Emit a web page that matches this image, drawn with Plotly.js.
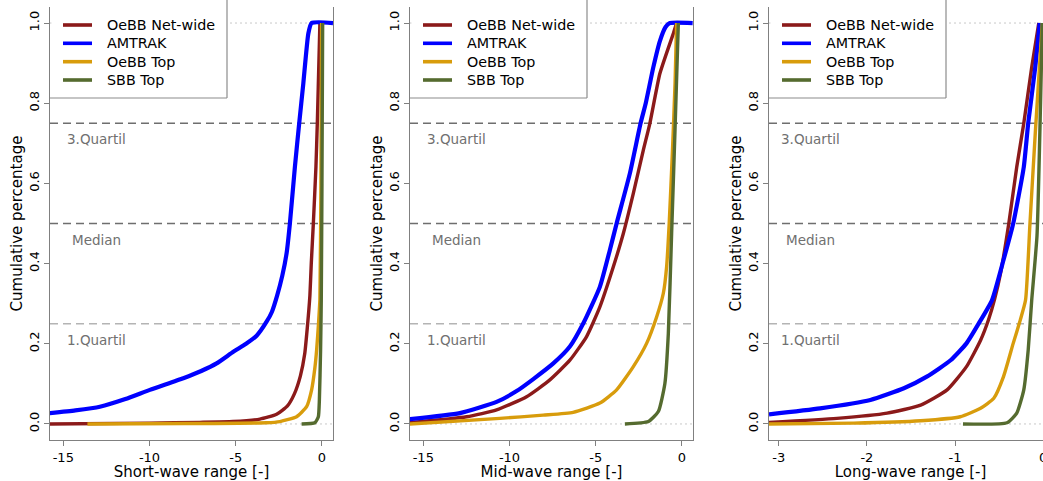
<!DOCTYPE html>
<html><head><meta charset="utf-8">
<script src="https://cdn.plot.ly/plotly-3.0.1.min.js"></script>
<style>html,body{margin:0;padding:0;overflow:hidden;background:#fff}#chart{width:1060px;height:481px}</style>
</head><body><div id="chart"></div><script>
// ---- data ----
const seriesNames = ['OeBB Net-wide', 'AMTRAK', 'OeBB Top', 'SBB Top'];
const seriesColors = ['#8B1A1A', '#0000FF', '#D89C0C', '#556B2F'];
const seriesWidths = [3.4, 4.2, 3.4, 3.4];

const panelTitles = ['Short-wave range [-]', 'Mid-wave range [-]', 'Long-wave range [-]'];
const panelRanges = [[-15.77, 0.64], [-15.77, 0.64], [-3.11, 0.10]];
const panelTickVals = [[-15, -10, -5, 0], [-15, -10, -5, 0], [-3, -2, -1, 0]];
const panelTickText = [['-15', '-10', '-5', '0'], ['-15', '-10', '-5', '0'], ['-3', '-2', '-1', '0']];
const yTickVals = [0, 0.2, 0.4, 0.6, 0.8, 1.0];
const yTickText = ['0.0', '0.2', '0.4', '0.6', '0.8', '1.0'];
const quartileLabels = ['3.Quartil', 'Median', '1.Quartil'];
const quartileValues = [0.75, 0.5, 0.25];
const labelYs = [0.71, 0.458, 0.209];
const labelXs = [-13.1, -13.1, -2.64];

// Short-wave
const swNetX = [-15.8, -10, -7.08, -5.16, -3.6, -2.63, -2.0, -1.6, -1.25, -1.0, -0.85, -0.70, -0.62, -0.50, -0.35, -0.27, -0.16, -0.12];
const swNetY = [0.0, 0.002, 0.004, 0.006, 0.012, 0.024, 0.045, 0.075, 0.12, 0.175, 0.24, 0.32, 0.40, 0.5, 0.641, 0.75, 0.932, 1.0];
const swAmtX = [-15.8, -14.3, -12.88, -11.4, -9.98, -8.04, -7.0, -6.11, -5.14, -4.4, -3.79, -3.21, -2.9, -2.6, -2.3, -2.05, -1.86, -1.57, -1.32, -1.08, -0.79, -0.60, 0.64];
const swAmtY = [0.027, 0.034, 0.043, 0.062, 0.085, 0.114, 0.132, 0.151, 0.180, 0.20, 0.220, 0.255, 0.28, 0.32, 0.37, 0.426, 0.5, 0.641, 0.75, 0.85, 0.974, 1.0, 1.0];
const swTopX = [-13.6, -8, -3.21, -2.44, -1.47, -0.89, -0.60, -0.41, -0.31, -0.2, -0.12, -0.06, -0.02];
const swTopY = [0.0, 0.001, 0.003, 0.006, 0.018, 0.043, 0.085, 0.14, 0.184, 0.25, 0.31, 0.6, 1.0];
const swSbbX = [-1.18, -0.41, -0.21, -0.15, -0.08, -0.04, 0.0, 0.04];
const swSbbY = [0.0, 0.003, 0.018, 0.06, 0.184, 0.309, 0.6, 1.0];

// Mid-wave
const mwNetX = [-15.78, -12.49, -10.75, -9.01, -7.66, -6.50, -5.53, -4.76, -3.98, -3.40, -2.82, -2.24, -1.86, -1.28, -0.50, -0.31];
const mwNetY = [0.003, 0.018, 0.035, 0.068, 0.110, 0.159, 0.218, 0.292, 0.392, 0.475, 0.575, 0.683, 0.75, 0.874, 0.974, 1.0];
const mwAmtX = [-15.78, -12.88, -10.75, -9.59, -8.62, -7.46, -6.50, -5.72, -4.76, -4.18, -3.79, -3.02, -2.40, -2.10, -1.66, -1.28, -0.95, -0.70, 0.62];
const mwAmtY = [0.012, 0.027, 0.055, 0.082, 0.112, 0.151, 0.193, 0.251, 0.342, 0.434, 0.5, 0.625, 0.75, 0.80, 0.89, 0.955, 0.99, 1.0, 1.0];
const mwTopX = [-15.78, -10.56, -8.05, -6.31, -4.76, -3.79, -2.82, -2.05, -1.47, -1.08, -0.89, -0.74, -0.55, -0.40, -0.31];
const mwTopY = [0.0, 0.014, 0.022, 0.029, 0.052, 0.085, 0.143, 0.201, 0.267, 0.326, 0.392, 0.5, 0.683, 0.85, 1.0];
const mwSbbX = [-3.31, -1.95, -1.37, -0.99, -0.79, -0.60, -0.41, -0.21];
const mwSbbY = [0.0, 0.006, 0.031, 0.101, 0.226, 0.475, 0.724, 1.0];

// Long-wave
const lwNetX = [-3.11, -2.34, -1.77, -1.39, -1.09, -0.87, -0.71, -0.62, -0.55, -0.48, -0.39, -0.30, -0.22, -0.13, -0.05];
const lwNetY = [0.004, 0.014, 0.027, 0.047, 0.085, 0.143, 0.209, 0.26, 0.312, 0.38, 0.5, 0.641, 0.75, 0.89, 1.0];
const lwAmtX = [-3.11, -2.53, -1.96, -1.58, -1.32, -1.05, -0.87, -0.73, -0.58, -0.45, -0.34, -0.22, -0.17, -0.09, -0.04];
const lwAmtY = [0.024, 0.039, 0.06, 0.089, 0.118, 0.159, 0.201, 0.251, 0.309, 0.409, 0.5, 0.641, 0.75, 0.89, 1.0];
const lwTopX = [-3.11, -2.15, -1.39, -0.94, -0.71, -0.56, -0.45, -0.34, -0.26, -0.20, -0.15, -0.09, -0.03, -0.01];
const lwTopY = [0.0, 0.002, 0.008, 0.018, 0.039, 0.064, 0.118, 0.201, 0.259, 0.309, 0.5, 0.724, 0.932, 1.0];
const lwSbbX = [-0.91, -0.41, -0.30, -0.22, -0.17, -0.13, -0.07, -0.03, -0.01];
const lwSbbY = [0.0, 0.003, 0.027, 0.085, 0.184, 0.309, 0.47, 0.8, 1.0];

const panelData = [
  [[swNetX, swNetY], [swAmtX, swAmtY], [swTopX, swTopY], [swSbbX, swSbbY]],
  [[mwNetX, mwNetY], [mwAmtX, mwAmtY], [mwTopX, mwTopY], [mwSbbX, mwSbbY]],
  [[lwNetX, lwNetY], [lwAmtX, lwAmtY], [lwTopX, lwTopY], [lwSbbX, lwSbbY]]
];

// ---- layout geometry ----
const W = 1060, H = 481;
const panelLeft = [50, 410, 769];
const panelWidth = 283;
const plotTop = 7, plotBottom = 440;
const plotH = plotBottom - plotTop;
const FONT = 'DejaVu Sans, Verdana, sans-serif';
const legendRightPx = 177;   // legend box width from axis
const legendBottomPx = 98;
const legendRowPx = [25, 43.3, 61.7, 80];
const legendLinePx = [13, 42];
const legendTextPx = 55;

const traces = [];
const layout = {
  width: W, height: H,
  margin: {l: 0, r: 0, t: 0, b: 0},
  paper_bgcolor: '#fff', plot_bgcolor: '#fff',
  font: {family: FONT, color: '#000'},
  showlegend: false,
  shapes: [], annotations: []
};

const yDom = [(H - plotBottom) / H, (H - plotTop) / H];
const legBoxYd = (plotBottom - legendBottomPx) / plotH;
const legBoxXd = legendRightPx / panelWidth;

for (let p = 0; p < 3; p++) {
  const sfx = p === 0 ? '' : String(p + 1);
  const xa = 'x' + sfx, ya = 'y' + sfx;
  const xd = xa + ' domain', yd = ya + ' domain';
  panelData[p].forEach((d, s) => {
    traces.push({
      x: d[0], y: d[1], type: 'scatter', mode: 'lines',
      name: seriesNames[s], xaxis: xa, yaxis: ya,
      line: {color: seriesColors[s], width: seriesWidths[s], shape: 'spline', smoothing: 0.5},
      hoverinfo: 'skip'
    });
  });
  const x0 = panelLeft[p] / W, x1 = (panelLeft[p] + panelWidth) / W;
  layout['xaxis' + sfx] = {
    domain: [x0, x1], anchor: ya, range: panelRanges[p],
    showgrid: false, zeroline: false,
    showline: true, linecolor: '#808080', linewidth: 1,
    ticks: 'outside', ticklen: 5, tickcolor: '#808080',
    tickmode: 'array', tickvals: panelTickVals[p], ticktext: panelTickText[p],
    tickfont: {family: FONT, size: 13, color: '#000'},
    title: {text: panelTitles[p], font: {family: FONT, size: 15, color: '#000'}, standoff: 2}
  };
  layout['yaxis' + sfx] = {
    domain: yDom, anchor: xa, range: [-0.04, 1.04],
    showgrid: false, zeroline: false,
    showline: true, mirror: true, linecolor: '#808080', linewidth: 1,
    ticks: 'outside', ticklen: 5, tickcolor: '#808080',
    tickmode: 'array', tickvals: yTickVals, ticktext: yTickText, tickangle: -90,
    tickfont: {family: FONT, size: 13, color: '#000'},
    title: {text: 'Cumulative percentage', font: {family: FONT, size: 15, color: '#000'}, standoff: 0}
  };
  // reference lines
  layout.shapes.push({type: 'line', xref: xd, yref: ya, x0: 0, x1: 1, y0: 1, y1: 1, layer: 'below',
    line: {color: '#c8c8c8', width: 1, dash: '2px,3px'}});
  layout.shapes.push({type: 'line', xref: xd, yref: ya, x0: 0, x1: 1, y0: 0, y1: 0, layer: 'below',
    line: {color: '#c8c8c8', width: 1, dash: '2px,3px'}});
  quartileValues.forEach((q, i) => {
    layout.shapes.push({type: 'line', xref: xd, yref: ya, x0: 0, x1: 1, y0: q, y1: q, layer: 'below',
      line: {color: i === 2 ? '#b4b4b4' : '#6e6e6e', width: 1.3, dash: '8px,5px'}});
    layout.annotations.push({xref: xa, yref: ya, x: labelXs[p], y: labelYs[i], text: quartileLabels[i],
      showarrow: false, xanchor: 'center', yanchor: 'middle',
      font: {family: FONT, size: 13.5, color: '#707070'}});
  });
  // legend box
  layout.shapes.push({type: 'rect', xref: xd, yref: yd, x0: 0.005, x1: legBoxXd, y0: legBoxYd, y1: 1.02,
    layer: 'above', fillcolor: '#fff', line: {width: 0}});
  layout.shapes.push({type: 'line', xref: xd, yref: yd, x0: legBoxXd, x1: legBoxXd, y0: legBoxYd, y1: 1.02,
    layer: 'above', line: {color: '#8c8c8c', width: 1.2}});
  layout.shapes.push({type: 'line', xref: xd, yref: yd, x0: 0, x1: legBoxXd, y0: legBoxYd, y1: legBoxYd,
    layer: 'above', line: {color: '#8c8c8c', width: 1.2}});
  // legend entries
  seriesNames.forEach((nm, s) => {
    const yy = (plotBottom - legendRowPx[s]) / plotH;
    layout.shapes.push({type: 'line', xref: xd, yref: yd,
      x0: legendLinePx[0] / panelWidth, x1: legendLinePx[1] / panelWidth, y0: yy, y1: yy,
      layer: 'above', line: {color: seriesColors[s], width: 3.6}});
    layout.annotations.push({xref: xd, yref: yd, x: legendTextPx / panelWidth, y: yy, text: nm,
      showarrow: false, xanchor: 'left', yanchor: 'middle',
      font: {family: FONT, size: 14.3, color: '#000'}});
  });
}

Plotly.newPlot('chart', traces, layout, {staticPlot: true, displayModeBar: false});
</script></body></html>
